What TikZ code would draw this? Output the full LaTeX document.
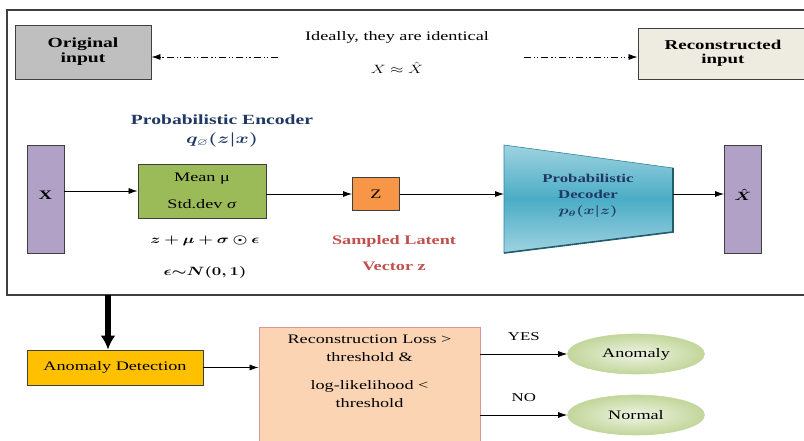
\documentclass[tikz,border=0pt]{standalone}
\usepackage{amsmath, amssymb, bm}
\usepackage[no-math]{fontspec}
\setmainfont{Liberation Serif}[FakeStretch=1.4]
\usepackage{graphicx}
\usepackage{xcolor}
\usepackage{tikz}
\usetikzlibrary{positioning, arrows.meta, shapes.geometric}

\definecolor{boxedge}{HTML}{3F3F3F}
\definecolor{greyin}{HTML}{BFBFBF}
\definecolor{creamout}{HTML}{EEECE1}
\definecolor{lilac}{HTML}{B2A1C7}
\definecolor{encgreen}{HTML}{9BBB59}
\definecolor{zorange}{HTML}{F79646}
\definecolor{decmid}{HTML}{4BACC6}
\definecolor{declight}{HTML}{9ED3E1}
\definecolor{decedge}{HTML}{31849B}
\definecolor{navy}{HTML}{1F3864}
\definecolor{latentred}{HTML}{C0504D}
\definecolor{amber}{HTML}{FFC000}
\definecolor{peach}{HTML}{FBD4B4}
\definecolor{peachedge}{HTML}{D99694}
\definecolor{sage}{HTML}{E3EDD0}
\definecolor{sagedark}{HTML}{C3D69B}

% wide text font, so math gets stretched the same way
\newcommand{\wmath}[1]{\scalebox{1.4}[1]{$#1$}}
\newcommand{\bodysize}{\fontsize{13}{15.6}\selectfont}
\newcommand{\smallsize}{\fontsize{12}{16}\selectfont}

\tikzset{
	flatbox/.style={rectangle, draw=boxedge, line width=0.9pt, inner sep=0pt, font=\bodysize},
	tallbox/.style={flatbox, fill=lilac, minimum width=37pt, minimum height=108pt},
	outcome/.style={ellipse, draw=sagedark, line width=0.6pt, inner color=sage!60!white, outer color=sagedark, minimum width=137pt, minimum height=40pt, font=\bodysize},
	flow/.style={-{Latex[length=9pt,width=6pt]}, line width=0.8pt},
	dashdotdot/.style={dash pattern=on 7pt off 3pt on 1.2pt off 2pt on 1.2pt off 3pt}
}

\begin{document}
\begin{tikzpicture}[x=1pt, y=-1pt]
	\useasboundingbox (0,0) rectangle (804,441);
	\clip (0,0) rectangle (804,441);
	% VAE frame
	\draw[boxedge, line width=1.4pt] (7,10) rectangle (814,295);
	
	% top row: input vs reconstruction
	\node[flatbox, fill=greyin, minimum width=136pt, minimum height=54pt, align=center, font=\fontsize{14}{15}\selectfont\bfseries] (orig) at (83,52) {Original\\input};
	\node[flatbox, fill=creamout, minimum width=170pt, minimum height=51pt, align=center, font=\fontsize{13.5}{14.5}\selectfont\bfseries] (recon) at (723,53.5) {Reconstructed\\input};
	\node[font=\bodysize] (ideal) at (397,37) {Ideally, they are identical};
	\node[font=\bodysize] (approx) at (397,68) {\wmath{X \approx \hat{X}}};
	\coordinate (dl) at (278,57);
	\coordinate (dr) at (524,57);
	\draw[flow, dashdotdot] (dl) -- (dl -| orig.east);
	\draw[flow, dashdotdot] (dr) -- (dr -| recon.west);
	
	% encoder
	\node[text=navy, font=\fontsize{14}{16}\selectfont\bfseries] (enctitle) at (222,120) {Probabilistic Encoder};
	\node[text=navy, font=\fontsize{14}{16}\selectfont] (encq) at (222,140) {\wmath{\bm{q_{\varnothing}(z|x)}}};
	\node[tallbox] (x) at (45.5,199) {\raisebox{7pt}{\bfseries X}};
	\node[flatbox, fill=encgreen, minimum width=128pt, minimum height=54pt, align=center] (enc) at (202,191) {Mean μ\\[12pt]Std.dev \textit{σ}};
	\node[flatbox, fill=zorange, minimum width=47pt, minimum height=33pt] (z) at (376,194) {Z};
	\node[font=\bodysize] (reparam) at (205,241) {\wmath{\bm{z+\mu+\sigma\odot\epsilon}}};
	\node[font=\bodysize] (noise) at (205,272) {\wmath{\bm{\epsilon{\sim}N(0,1)}}};
	\node[text=latentred, font=\bodysize\bfseries, align=center] (latent) at (394,253) {Sampled Latent\\[10pt]Vector z};
	
	% decoder
	\coordinate (dtl) at (504,145);
	\coordinate (dtr) at (673,168);
	\coordinate (dbr) at (673,232);
	\coordinate (dbl) at (504,253);
	\shade[top color=declight, bottom color=declight, middle color=decmid, draw=decedge, line width=0.6pt] (dtl) -- (dtr) -- (dbr) -- (dbl) -- cycle;
	\draw[decedge!70!black, line width=1.6pt] (dbl) -- (dbr) -- (dtr);
	\node[text=navy, font=\smallsize\bfseries, align=center] (dec) at (588,196) {Probabilistic\\Decoder\\\wmath{\bm{p_\theta(x|z)}}};
	\coordinate (decin) at (504,194);
	\coordinate (decout) at (673,194);
	\node[tallbox] (xhat) at (743,199) {\raisebox{8pt}{\wmath{\bm{\hat{X}}}}};
	
	\draw[flow] (x.east |- enc.west) -- (enc.west);
	\draw[flow] (enc.east |- z.west) -- (z.west);
	\draw[flow] (z.east) -- (decin);
	\draw[flow] (decout) -- (decout -| xhat.west);
	
	% detection stage
	\coordinate (tap) at (108,295);
	\node[flatbox, fill=amber, minimum width=176pt, minimum height=35pt] (detect) at (115,367.5) {Anomaly Detection};
	\draw[-{Latex[length=14pt,width=15pt]}, line width=6pt] (tap) -- (tap |- detect.north);
	\node[flatbox, draw=peachedge, fill=peach, minimum width=221pt, minimum height=140pt] (cond) at (369.5,397) {};
	\node[font=\fontsize{13}{17.5}\selectfont, align=center, below=5pt of cond.north] (rule) {Reconstruction Loss >\\threshold \&\\[11pt]log-likelihood <\\threshold};
	\draw[flow] (detect.east) -- (detect.east -| cond.west);
	
	\node[outcome] (anom) at (636,354) {Anomaly};
	\node[outcome] (normal) at (636,415) {Normal};
	\draw[flow] (cond.east |- anom) -- (anom.west) node[midway, above=10pt, font=\smallsize] {YES};
	\draw[flow] (cond.east |- normal) -- (normal.west) node[midway, above=10pt, font=\smallsize] {NO};
\end{tikzpicture}
\end{document}
